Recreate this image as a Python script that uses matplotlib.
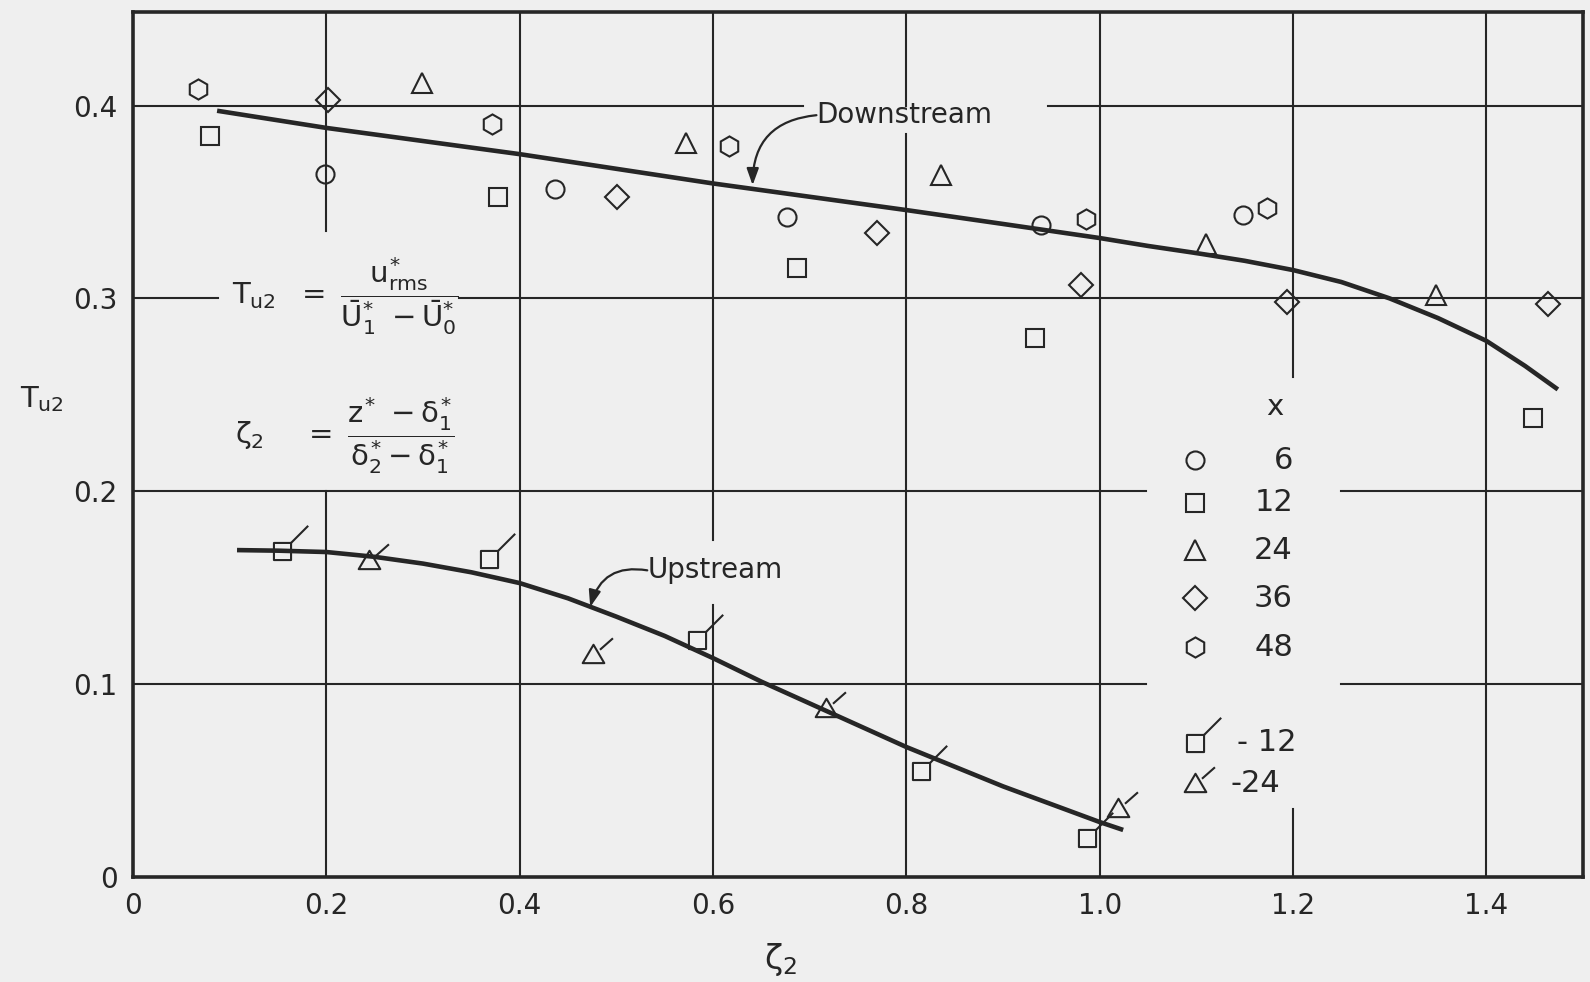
import numpy as np
import matplotlib
matplotlib.use('Agg')
import matplotlib.pyplot as plt
from matplotlib.path import Path

plt.rcParams['font.family'] = ['DejaVu Sans']
plt.rcParams['mathtext.fontset'] = 'custom'
plt.rcParams['mathtext.rm'] = 'DejaVu Sans'
plt.rcParams['mathtext.it'] = 'DejaVu Sans'
plt.rcParams['mathtext.bf'] = 'DejaVu Sans:bold'

# ---------------- data ----------------
# Downstream points (x = 6, 12, 24, 36, 48)
x6 = [0.1987, 0.4366, 0.6767, 0.9395, 1.148]
y6 = [0.3644, 0.3567, 0.342, 0.338, 0.343]
x12 = [0.0797, 0.3777, 0.687, 0.933, 1.448]
y12 = [0.384, 0.3525, 0.3157, 0.2794, 0.238]
x24 = [0.299, 0.572, 0.836, 1.110, 1.348]
y24 = [0.4116, 0.3805, 0.364, 0.328, 0.302]
x36 = [0.2018, 0.5008, 0.7698, 0.981, 1.194, 1.464]
y36 = [0.4028, 0.3525, 0.3339, 0.307, 0.298, 0.297]
x48 = [0.0673, 0.3714, 0.6167, 0.986, 1.173]
y48 = [0.4085, 0.3904, 0.379, 0.341, 0.347]
# Upstream points (x = -12, -24)
xm12 = [0.1542, 0.368, 0.5835, 0.815, 0.987]
ym12 = [0.169, 0.1648, 0.1229, 0.055, 0.0202]
xm24 = [0.244, 0.476, 0.717, 1.019]
ym24 = [0.1643, 0.1156, 0.0876, 0.0358]
# Fitted curves
down_x = [0.087, 0.2, 0.3, 0.4, 0.5, 0.6, 0.7, 0.8, 0.9, 1.0, 1.05, 1.1, 1.15, 1.2,
          1.25, 1.3, 1.35, 1.4, 1.44, 1.474]
down_y = [0.3973, 0.3884, 0.3816, 0.3748, 0.3672, 0.3596, 0.3527, 0.3458, 0.3386,
          0.3313, 0.3272, 0.3235, 0.3195, 0.3147, 0.3085, 0.300, 0.2898, 0.278,
          0.265, 0.2528]
up_x = [0.1076, 0.15, 0.2, 0.25, 0.3, 0.35, 0.4, 0.45, 0.5, 0.55, 0.6, 0.65, 0.7,
        0.8, 0.9, 1.0, 1.0243]
up_y = [0.1695, 0.1692, 0.1685, 0.166, 0.1625, 0.158, 0.1524, 0.1445, 0.135, 0.125,
        0.1135, 0.1013, 0.090, 0.0674, 0.047, 0.0285, 0.0244]

xticks = [0, 0.2, 0.4, 0.6, 0.8, 1.0, 1.2, 1.4]
xticklabels = ['0', '0.2', '0.4', '0.6', '0.8', '1.0', '1.2', '1.4']
yticks = [0, 0.1, 0.2, 0.3, 0.4]
yticklabels = ['0', '0.1', '0.2', '0.3', '0.4']
legend_labels = ['6', '12', '24', '36', '48']
legend_labels2 = ['- 12', '-24']

# ---------------- style ----------------
INK = '#262626'
BG = '#efefef'

# custom flagged markers
sq_flag = Path([(-0.5, -0.5), (0.5, -0.5), (0.5, 0.5), (-0.5, 0.5), (-0.5, -0.5),
                (0.5, 0.5), (1.5, 1.5)],
               [Path.MOVETO, Path.LINETO, Path.LINETO, Path.LINETO, Path.CLOSEPOLY,
                Path.MOVETO, Path.LINETO])
tri_flag = Path([(-0.5, -0.4), (0.5, -0.4), (0.0, 0.45), (-0.5, -0.4),
                 (0.3, 0.22), (0.9, 0.75)],
                [Path.MOVETO, Path.LINETO, Path.LINETO, Path.CLOSEPOLY,
                 Path.MOVETO, Path.LINETO])

fig = plt.figure(figsize=(15.9, 9.82), dpi=100, facecolor=BG)
W, H = 1590, 982
ax = fig.add_axes([133 / W, 1 - 877 / H, 1450 / W, 865 / H])
ax.set_facecolor(BG)
ax.set_xlim(0, 1.5)
ax.set_ylim(0, 0.4485)

for s in ax.spines.values():
    s.set_linewidth(2.6)
    s.set_color(INK)

ax.set_xticks(xticks)
ax.set_xticklabels(xticklabels)
ax.set_yticks(yticks)
ax.set_yticklabels(yticklabels)
ax.tick_params(length=0, labelsize=20, colors=INK, pad=11)

# grid segments (with gaps as in the original)
glw = 1.5
hsegs = [(0.1, 0, 1.048), (0.1, 1.25, 1.5),
         (0.2, 0, 1.048), (0.2, 1.25, 1.5),
         (0.3, 0, 0.088), (0.3, 0.337, 1.5),
         (0.4, 0, 0.693), (0.4, 0.947, 1.5)]
vsegs = [(0.2, 0, 0.2), (0.2, 0.335, 0.4485),
         (0.4, 0, 0.4485),
         (0.6, 0, 0.141), (0.6, 0.1747, 0.4485),
         (0.8, 0, 0.385), (0.8, 0.4, 0.4485),
         (1.0, 0, 0.4485),
         (1.2, 0, 0.035), (1.2, 0.259, 0.4485),
         (1.4, 0, 0.4485)]
for y, a, b in hsegs:
    ax.plot([a, b], [y, y], color=INK, lw=glw, zorder=1)
for x, a, b in vsegs:
    ax.plot([x, x], [a, b], color=INK, lw=glw, zorder=1)

# curves
ax.plot(down_x, down_y, color=INK, lw=3.3, solid_capstyle='butt',
        solid_joinstyle='round', zorder=2)
ax.plot(up_x, up_y, color=INK, lw=3.3, solid_capstyle='butt',
        solid_joinstyle='round', zorder=2)

mk = dict(linestyle='none', markerfacecolor='none', markeredgecolor=INK,
          markeredgewidth=1.5, zorder=3)
MS = {'o': 13, 's': 12.5, '^': 15, 'D': 12, 'h': 14.5}
ax.plot(x6, y6, marker='o', markersize=MS['o'], **mk)
ax.plot(x12, y12, marker='s', markersize=MS['s'], **mk)
ax.plot(x24, y24, marker='^', markersize=MS['^'], **mk)
ax.plot(x36, y36, marker='D', markersize=MS['D'], **mk)
ax.plot(x48, y48, marker='h', markersize=MS['h'], **mk)
ax.plot(xm12, ym12, marker=sq_flag, markersize=37, **mk)
ax.plot(xm24, ym24, marker=tri_flag, markersize=28, **mk)

# legend (manual, as drawn in the original)
ax.text(1.181, 0.2437, 'x', fontsize=21, color=INK, ha='center', va='center')
leg_y = [0.216, 0.194, 0.1695, 0.1446, 0.119]
leg_m = ['o', 's', '^', 'D', 'h']
for m, yy, lab in zip(leg_m, leg_y, legend_labels):
    ax.plot([1.099], [yy], marker=m, markersize=MS[m], **mk)
    ax.text(1.200, yy, lab, fontsize=22, color=INK, ha='right', va='center')
ax.plot([1.099], [0.0695], marker=sq_flag, markersize=37, **mk)
ax.text(1.142, 0.0695, legend_labels2[0], fontsize=22, color=INK, ha='left', va='center')
ax.plot([1.099], [0.0487], marker=tri_flag, markersize=28, **mk)
ax.text(1.135, 0.0487, legend_labels2[1], fontsize=22, color=INK, ha='left', va='center')

# annotations
ap = dict(arrowstyle='-|>,head_length=0.5,head_width=0.18',
          connectionstyle='arc3,rad=0.45', color=INK, lw=1.6,
          shrinkA=0, shrinkB=0, mutation_scale=20, relpos=(0, 0.5), patchA=None)
ax.annotate('Downstream', xy=(0.641, 0.3587), xytext=(0.707, 0.395), fontsize=20,
            color=INK, ha='left', va='center', arrowprops=ap)
ax.annotate('Upstream', xy=(0.473, 0.140), xytext=(0.532, 0.159), fontsize=20,
            color=INK, ha='left', va='center', arrowprops=ap)

# formulas
ax.text(0.1024, 0.301,
        r'$T_{u2}\ \ =\ \dfrac{u^{*}_{rms}}{\bar{U}^{*}_{1}\ -\bar{U}^{*}_{0}}$',
        fontsize=21, color=INK, ha='left', va='center')
ax.text(0.1055, 0.229,
        r'$\zeta_{2}\ \ \ \ =\ \dfrac{z^{*}\ -\delta^{*}_{1}}{\delta^{*}_{2}-\delta^{*}_{1}}$',
        fontsize=21, color=INK, ha='left', va='center')

# axis labels
ax.text(-0.094, 0.248, r'$T_{u2}$', fontsize=21, color=INK, ha='center', va='center',
        clip_on=False)
ax.text(0.670, -0.043, r'$\zeta_{2}$', fontsize=24, color=INK, ha='center', va='center',
        clip_on=False)

fig.savefig('out.png', dpi=100, facecolor=BG)
